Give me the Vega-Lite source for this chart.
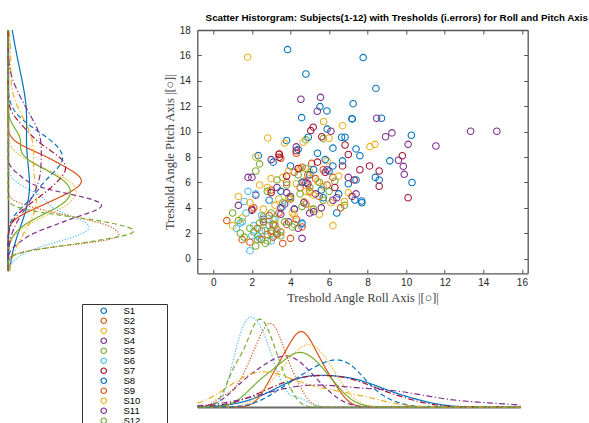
{
"$schema": "https://vega.github.io/schema/vega-lite/v6.json",
"background": "white",
"padding": {"left": 5, "top": 13, "right": 2, "bottom": 0},
"title": {"text": "Scatter Historgram: Subjects(1-12) with Tresholds (i.errors) for Roll and Pitch Axis", "anchor": "start", "dx": 200, "font": "Liberation Sans", "fontSize": 9.8, "fontWeight": "bold", "color": "#000000", "offset": 2},
"datasets": {"pts": [
{"s":"S1","r":3.85,"p":16.46},{"s":"S1","r":7.77,"p":15.83},{"s":"S1","r":4.8,"p":14.54},{"s":"S1","r":8.43,"p":13.4},{"s":"S1","r":5.53,"p":11.97},{"s":"S1","r":5.89,"p":11.63},{"s":"S1","r":7.25,"p":12.2},{"s":"S1","r":4.58,"p":11.1},{"s":"S1","r":7.19,"p":11.02},{"s":"S1","r":8.72,"p":11.05},{"s":"S1","r":10.27,"p":9.72},{"s":"S1","r":2.33,"p":8.11},{"s":"S1","r":3.5,"p":5.3},{"s":"S1","r":4.2,"p":3.9},{"s":"S1","r":5.0,"p":6.6},{"s":"S1","r":5.7,"p":4.8},{"s":"S1","r":6.4,"p":3.6},{"s":"S1","r":7.0,"p":5.9},{"s":"S1","r":7.7,"p":4.4},{"s":"S1","r":8.6,"p":6.2},{"s":"S1","r":10.3,"p":6.0},{"s":"S1","r":6.2,"p":7.3},{"s":"S1","r":4.6,"p":2.8},
{"s":"S2","r":3.0,"p":5.4},{"s":"S2","r":3.4,"p":8.2},{"s":"S2","r":3.5,"p":7.9},{"s":"S2","r":3.8,"p":6.0},{"s":"S2","r":4.0,"p":4.7},{"s":"S2","r":4.2,"p":6.8},{"s":"S2","r":4.3,"p":8.3},{"s":"S2","r":4.5,"p":5.6},{"s":"S2","r":4.6,"p":7.2},{"s":"S2","r":4.7,"p":6.1},{"s":"S2","r":4.8,"p":4.3},{"s":"S2","r":4.9,"p":6.6},{"s":"S2","r":5.0,"p":5.3},{"s":"S2","r":5.1,"p":7.5},{"s":"S2","r":5.3,"p":6.3},{"s":"S2","r":5.5,"p":4.9},{"s":"S2","r":5.7,"p":7.0},{"s":"S2","r":5.9,"p":5.8},{"s":"S2","r":6.2,"p":6.4},{"s":"S2","r":6.6,"p":4.0},
{"s":"S3","r":2.8,"p":5.6},{"s":"S3","r":3.2,"p":4.2},{"s":"S3","r":3.6,"p":6.4},{"s":"S3","r":3.9,"p":4.8},{"s":"S3","r":4.1,"p":3.6},{"s":"S3","r":4.3,"p":5.9},{"s":"S3","r":4.5,"p":7.1},{"s":"S3","r":4.7,"p":4.5},{"s":"S3","r":4.8,"p":5.3},{"s":"S3","r":5.0,"p":6.8},{"s":"S3","r":5.1,"p":3.9},{"s":"S3","r":5.2,"p":5.0},{"s":"S3","r":5.4,"p":6.1},{"s":"S3","r":5.5,"p":3.5},{"s":"S3","r":5.7,"p":5.7},{"s":"S3","r":5.9,"p":7.7},{"s":"S3","r":6.1,"p":4.4},{"s":"S3","r":6.2,"p":2.6},{"s":"S3","r":6.5,"p":6.5},{"s":"S3","r":7.0,"p":5.2},
{"s":"S4","r":1.3,"p":4.2},{"s":"S4","r":1.8,"p":6.4},{"s":"S4","r":2.0,"p":3.8},{"s":"S4","r":2.2,"p":5.0},{"s":"S4","r":2.6,"p":3.1},{"s":"S4","r":2.9,"p":4.6},{"s":"S4","r":3.1,"p":2.7},{"s":"S4","r":3.3,"p":5.6},{"s":"S4","r":3.5,"p":3.5},{"s":"S4","r":3.7,"p":4.3},{"s":"S4","r":3.9,"p":2.9},{"s":"S4","r":4.0,"p":4.9},{"s":"S4","r":4.2,"p":3.9},{"s":"S4","r":4.4,"p":2.4},{"s":"S4","r":4.6,"p":1.6},{"s":"S4","r":4.7,"p":4.4},{"s":"S4","r":5.0,"p":3.6},{"s":"S4","r":5.3,"p":5.1},{"s":"S4","r":5.6,"p":4.0},{"s":"S4","r":6.2,"p":4.6},
{"s":"S5","r":2.4,"p":7.46},{"s":"S5","r":2.2,"p":6.9},{"s":"S5","r":2.8,"p":5.3},{"s":"S5","r":3.0,"p":3.6},{"s":"S5","r":3.3,"p":6.2},{"s":"S5","r":3.6,"p":4.4},{"s":"S5","r":3.8,"p":5.8},{"s":"S5","r":4.0,"p":4.8},{"s":"S5","r":4.2,"p":2.7},{"s":"S5","r":4.4,"p":6.6},{"s":"S5","r":4.5,"p":5.1},{"s":"S5","r":4.6,"p":4.1},{"s":"S5","r":4.8,"p":7.1},{"s":"S5","r":5.0,"p":5.6},{"s":"S5","r":5.2,"p":3.9},{"s":"S5","r":5.5,"p":6.0},{"s":"S5","r":5.7,"p":4.6},{"s":"S5","r":6.0,"p":5.3},{"s":"S5","r":6.3,"p":6.1},{"s":"S5","r":6.8,"p":4.2},{"s":"S5","r":4.8,"p":9.35},{"s":"S5","r":5.7,"p":9.45},
{"s":"S6","r":1.9,"p":0.63},{"s":"S6","r":1.6,"p":4.5},{"s":"S6","r":1.8,"p":5.3},{"s":"S6","r":2.2,"p":5.1},{"s":"S6","r":2.0,"p":1.8},{"s":"S6","r":2.4,"p":1.6},{"s":"S6","r":2.9,"p":4.6},{"s":"S6","r":3.1,"p":3.1},{"s":"S6","r":1.5,"p":2.9},{"s":"S6","r":2.7,"p":2.2},{"s":"S6","r":3.3,"p":2.0},{"s":"S6","r":3.6,"p":4.1},{"s":"S6","r":1.2,"p":2.4},{"s":"S6","r":2.5,"p":3.4},{"s":"S6","r":2.1,"p":2.6},{"s":"S6","r":3.0,"p":1.4},{"s":"S6","r":2.3,"p":1.8},{"s":"S6","r":1.4,"p":2.8},{"s":"S6","r":1.7,"p":3.6},{"s":"S6","r":2.6,"p":2.9},{"s":"S6","r":4.6,"p":2.7},
{"s":"S7","r":2.0,"p":3.9},{"s":"S7","r":3.0,"p":5.2},{"s":"S7","r":3.42,"p":8.24},{"s":"S7","r":3.42,"p":7.98},{"s":"S7","r":3.8,"p":6.5},{"s":"S7","r":4.3,"p":8.5},{"s":"S7","r":4.4,"p":7.1},{"s":"S7","r":4.9,"p":5.9},{"s":"S7","r":5.05,"p":10.08},{"s":"S7","r":5.18,"p":10.35},{"s":"S7","r":5.4,"p":7.6},{"s":"S7","r":5.62,"p":9.6},{"s":"S7","r":5.8,"p":6.8},{"s":"S7","r":6.3,"p":5.6},{"s":"S7","r":6.7,"p":7.3},{"s":"S7","r":6.83,"p":8.95},{"s":"S7","r":7.0,"p":8.2},{"s":"S7","r":7.2,"p":4.9},{"s":"S7","r":7.3,"p":6.2},{"s":"S7","r":7.6,"p":7.0},{"s":"S7","r":8.1,"p":7.3},{"s":"S7","r":8.6,"p":6.9},{"s":"S7","r":8.6,"p":5.7},{"s":"S7","r":9.8,"p":8.1},{"s":"S7","r":10.1,"p":4.8},
{"s":"S8","r":3.1,"p":7.6},{"s":"S8","r":3.8,"p":9.3},{"s":"S8","r":4.0,"p":7.3},{"s":"S8","r":4.4,"p":8.6},{"s":"S8","r":4.6,"p":6.0},{"s":"S8","r":4.92,"p":9.56},{"s":"S8","r":5.2,"p":7.0},{"s":"S8","r":5.4,"p":8.3},{"s":"S8","r":5.6,"p":5.4},{"s":"S8","r":5.8,"p":7.8},{"s":"S8","r":5.9,"p":10.2},{"s":"S8","r":6.0,"p":6.9},{"s":"S8","r":6.2,"p":8.7},{"s":"S8","r":6.5,"p":5.1},{"s":"S8","r":6.7,"p":7.7},{"s":"S8","r":6.65,"p":9.56},{"s":"S8","r":6.83,"p":9.56},{"s":"S8","r":7.2,"p":11.0},{"s":"S8","r":7.4,"p":6.2},{"s":"S8","r":7.4,"p":8.64},{"s":"S8","r":7.6,"p":8.1},{"s":"S8","r":8.4,"p":6.4},{"s":"S8","r":9.15,"p":7.7},{"s":"S8","r":7.69,"p":4.54},{"s":"S8","r":7.34,"p":4.62},
{"s":"S9","r":0.7,"p":3.0},{"s":"S9","r":1.5,"p":1.5},{"s":"S9","r":1.9,"p":1.3},{"s":"S9","r":2.1,"p":4.0},{"s":"S9","r":2.3,"p":2.4},{"s":"S9","r":2.5,"p":1.5},{"s":"S9","r":2.6,"p":2.9},{"s":"S9","r":2.8,"p":1.9},{"s":"S9","r":2.9,"p":3.4},{"s":"S9","r":3.0,"p":2.2},{"s":"S9","r":3.1,"p":1.7},{"s":"S9","r":3.2,"p":2.6},{"s":"S9","r":3.3,"p":1.9},{"s":"S9","r":3.4,"p":3.6},{"s":"S9","r":3.5,"p":2.1},{"s":"S9","r":3.6,"p":1.2},{"s":"S9","r":3.8,"p":2.7},{"s":"S9","r":4.0,"p":1.6},{"s":"S9","r":4.3,"p":3.1},{"s":"S9","r":4.6,"p":2.5},
{"s":"S10","r":1.0,"p":2.6},{"s":"S10","r":1.3,"p":4.9},{"s":"S10","r":1.5,"p":3.2},{"s":"S10","r":1.78,"p":15.86},{"s":"S10","r":1.9,"p":4.4},{"s":"S10","r":2.2,"p":8.0},{"s":"S10","r":2.4,"p":5.8},{"s":"S10","r":2.6,"p":3.9},{"s":"S10","r":2.82,"p":9.5},{"s":"S10","r":3.0,"p":6.3},{"s":"S10","r":3.2,"p":2.7},{"s":"S10","r":3.4,"p":4.7},{"s":"S10","r":3.7,"p":9.1},{"s":"S10","r":3.9,"p":6.9},{"s":"S10","r":4.2,"p":3.4},{"s":"S10","r":4.66,"p":9.16},{"s":"S10","r":5.0,"p":5.2},{"s":"S10","r":5.72,"p":10.8},{"s":"S10","r":6.0,"p":9.48},{"s":"S10","r":6.7,"p":10.47},{"s":"S10","r":6.8,"p":4.5},{"s":"S10","r":8.12,"p":8.82},{"s":"S10","r":8.38,"p":9.0},
{"s":"S11","r":2.0,"p":6.4},{"s":"S11","r":3.0,"p":7.8},{"s":"S11","r":3.5,"p":4.0},{"s":"S11","r":3.8,"p":5.2},{"s":"S11","r":4.3,"p":8.8},{"s":"S11","r":4.54,"p":12.55},{"s":"S11","r":4.8,"p":6.0},{"s":"S11","r":5.2,"p":3.7},{"s":"S11","r":5.39,"p":11.6},{"s":"S11","r":5.56,"p":12.7},{"s":"S11","r":5.9,"p":7.0},{"s":"S11","r":6.1,"p":10.03},{"s":"S11","r":6.4,"p":4.8},{"s":"S11","r":7.0,"p":6.4},{"s":"S11","r":7.4,"p":5.1},{"s":"S11","r":8.47,"p":11.05},{"s":"S11","r":8.93,"p":9.6},{"s":"S11","r":9.26,"p":9.9},{"s":"S11","r":9.6,"p":7.75},{"s":"S11","r":9.85,"p":7.27},{"s":"S11","r":9.9,"p":6.64},{"s":"S11","r":10.1,"p":9.0},{"s":"S11","r":11.54,"p":8.87},{"s":"S11","r":13.34,"p":10.03},{"s":"S11","r":14.7,"p":10.03},
{"s":"S12","r":1.0,"p":3.6},{"s":"S12","r":1.3,"p":3.0},{"s":"S12","r":1.4,"p":2.0},{"s":"S12","r":1.6,"p":1.7},{"s":"S12","r":1.9,"p":2.4},{"s":"S12","r":2.1,"p":2.1},{"s":"S12","r":2.2,"p":1.0},{"s":"S12","r":2.3,"p":1.5},{"s":"S12","r":2.4,"p":2.8},{"s":"S12","r":2.5,"p":2.2},{"s":"S12","r":2.6,"p":3.3},{"s":"S12","r":2.7,"p":1.2},{"s":"S12","r":2.8,"p":1.4},{"s":"S12","r":2.9,"p":2.6},{"s":"S12","r":3.0,"p":2.0},{"s":"S12","r":3.2,"p":3.1},{"s":"S12","r":3.3,"p":2.3},{"s":"S12","r":3.5,"p":1.8},{"s":"S12","r":3.7,"p":2.9},{"s":"S12","r":4.1,"p":2.5}
]},
"columns": 2,
"spacing": {"column": 59.3, "row": 10},
"bounds": "flush",
"center": {"column": true, "row": false},
"resolve": {"scale": {"color": "independent", "strokeDash": "independent"}, "legend": {"color": "independent", "strokeDash": "independent"}},
"concat": [
{
 "width": 130, "height": 241,
 "data": {"name": "pts"},
 "transform": [{"density": "p", "groupby": ["s"], "extent": [-0.9, 18], "steps": 200}],
 "mark": {"type": "line", "strokeWidth": 1.2},
 "encoding": {
  "y": {"field": "value", "type": "quantitative", "scale": {"domain": [-0.9, 18], "nice": false, "zero": false}, "axis": {"orient": "left", "domain": true, "domainColor": "#555555", "domainWidth": 1.5, "ticks": false, "labels": false, "grid": false, "title": null}},
  "x": {"field": "density", "type": "quantitative", "scale": {"domain": [0, 0.47], "nice": false}, "axis": null},
  "order": {"field": "value", "type": "quantitative"},
  "color": {"field": "s", "type": "nominal", "scale": {"domain": ["S1","S2","S3","S4","S5","S6","S7","S8","S9","S10","S11","S12"], "range": ["#0072BD","#D95319","#EDB120","#7E2F8E","#77AC30","#4DBEEE","#A2142F","#0072BD","#D95319","#EDB120","#7E2F8E","#77AC30"]}, "legend": null},
  "strokeDash": {"field": "s", "type": "nominal", "scale": {"domain": ["S1","S2","S3","S4","S5","S6","S7","S8","S9","S10","S11","S12"], "range": [[1,0],[1,0],[1.2,1.6],[5,3],[1,0],[1.2,1.6],[6,2.5,1.2,2.5],[5,3],[1.2,1.6],[6,2.5,1.2,2.5],[6,2.5,1.2,2.5],[5,3]]}, "legend": null}
 }
},
{
 "width": 330.4, "height": 243.3,
 "data": {"name": "pts"},
 "resolve": {"axis": {"x": "independent", "y": "independent"}},
 "layer": [
  {
   "mark": {"type": "point", "shape": "circle", "filled": false, "size": 42, "strokeWidth": 1.1, "opacity": 1},
   "encoding": {
    "x": {"field": "r", "type": "quantitative", "scale": {"domain": [-0.83, 16.3], "nice": false, "zero": false}, "axis": {"orient": "bottom", "values": [0,2,4,6,8,10,12,14,16], "grid": false, "domain": true, "domainColor": "#555555", "domainWidth": 1.3, "tickColor": "#555555", "tickSize": -4, "labelPadding": 8, "labelFont": "Liberation Sans", "labelFontSize": 10, "labelColor": "#262626", "title": "Treshold Angle Roll Axis |[○]|", "titleFont": "Liberation Serif", "titleFontSize": 12.5, "titleFontWeight": "normal", "titleColor": "#404040", "titlePadding": 4}},
    "y": {"field": "p", "type": "quantitative", "scale": {"domain": [-1.15, 18], "nice": false, "zero": false}, "axis": {"orient": "left", "values": [0,2,4,6,8,10,12,14,16,18], "grid": false, "domain": true, "domainColor": "#555555", "domainWidth": 1.3, "tickColor": "#555555", "tickSize": -4, "labelPadding": 11, "labelFont": "Liberation Sans", "labelFontSize": 10, "labelColor": "#262626", "title": "Treshold Angle Pitch Axis |[○]|", "titleFont": "Liberation Serif", "titleFontSize": 12.5, "titleFontWeight": "normal", "titleColor": "#404040", "titlePadding": 3}},
    "color": {"field": "s", "type": "nominal", "scale": {"domain": ["S1","S2","S3","S4","S5","S6","S7","S8","S9","S10","S11","S12"], "range": ["#0072BD","#D95319","#EDB120","#7E2F8E","#77AC30","#4DBEEE","#A2142F","#0072BD","#D95319","#EDB120","#7E2F8E","#77AC30"]},
     "legend": {"orient": "none", "legendX": -115.3, "legendY": 274, "title": null, "symbolType": "circle", "symbolSize": 30, "symbolStrokeWidth": 1.2, "labelFont": "Liberation Sans", "labelFontSize": 9.5, "labelColor": "#000000", "strokeColor": "#333333", "fillColor": "#ffffff", "padding": 2, "rowPadding": -1.6, "symbolOffset": 15, "labelOffset": 15, "labelExpr": "datum.label + '\u00a0\u00a0\u00a0\u00a0\u00a0\u00a0\u00a0\u00a0\u00a0\u200b'"}}
   }
  },
  {
   "mark": {"type": "point", "opacity": 0},
   "encoding": {
    "x": {"field": "r", "type": "quantitative", "scale": {"domain": [-0.83, 16.3], "nice": false, "zero": false}, "axis": {"orient": "top", "values": [0,2,4,6,8,10,12,14,16], "grid": false, "labels": false, "domain": true, "domainColor": "#555555", "domainWidth": 1.3, "tickColor": "#555555", "tickSize": -4, "title": null}},
    "y": {"field": "p", "type": "quantitative", "scale": {"domain": [-1.15, 18], "nice": false, "zero": false}, "axis": {"orient": "right", "values": [0,2,4,6,8,10,12,14,16,18], "grid": false, "labels": false, "domain": true, "domainColor": "#555555", "domainWidth": 1.3, "tickColor": "#555555", "tickSize": -4, "title": null}}
   }
  }
 ]
},
{
 "width": 130, "height": 123,
 "data": {"values": [{}]},
 "mark": {"type": "point", "opacity": 0}
},
{
 "width": 323, "height": 123,
 "data": {"name": "pts"},
 "transform": [{"density": "r", "groupby": ["s"], "extent": [-0.64, 16.1], "steps": 200}],
 "mark": {"type": "line", "strokeWidth": 1.2},
 "encoding": {
  "x": {"field": "value", "type": "quantitative", "scale": {"domain": [-0.64, 16.1], "nice": false, "zero": false}, "axis": {"orient": "bottom", "domain": true, "domainColor": "#6b6b6b", "domainWidth": 2, "ticks": false, "labels": false, "grid": false, "title": null}},
  "y": {"field": "density", "type": "quantitative", "scale": {"domain": [0, 0.6], "nice": false}, "axis": null},
  "color": {"field": "s", "type": "nominal", "scale": {"domain": ["S1","S2","S3","S4","S5","S6","S7","S8","S9","S10","S11","S12"], "range": ["#0072BD","#D95319","#EDB120","#7E2F8E","#77AC30","#4DBEEE","#A2142F","#0072BD","#D95319","#EDB120","#7E2F8E","#77AC30"]}, "legend": null},
  "strokeDash": {"field": "s", "type": "nominal", "scale": {"domain": ["S1","S2","S3","S4","S5","S6","S7","S8","S9","S10","S11","S12"], "range": [[1,0],[1,0],[1.2,1.6],[5,3],[1,0],[1.2,1.6],[6,2.5,1.2,2.5],[5,3],[1.2,1.6],[6,2.5,1.2,2.5],[6,2.5,1.2,2.5],[5,3]]}, "legend": null}
 }
}
],
"config": {"view": {"stroke": null}}
}
